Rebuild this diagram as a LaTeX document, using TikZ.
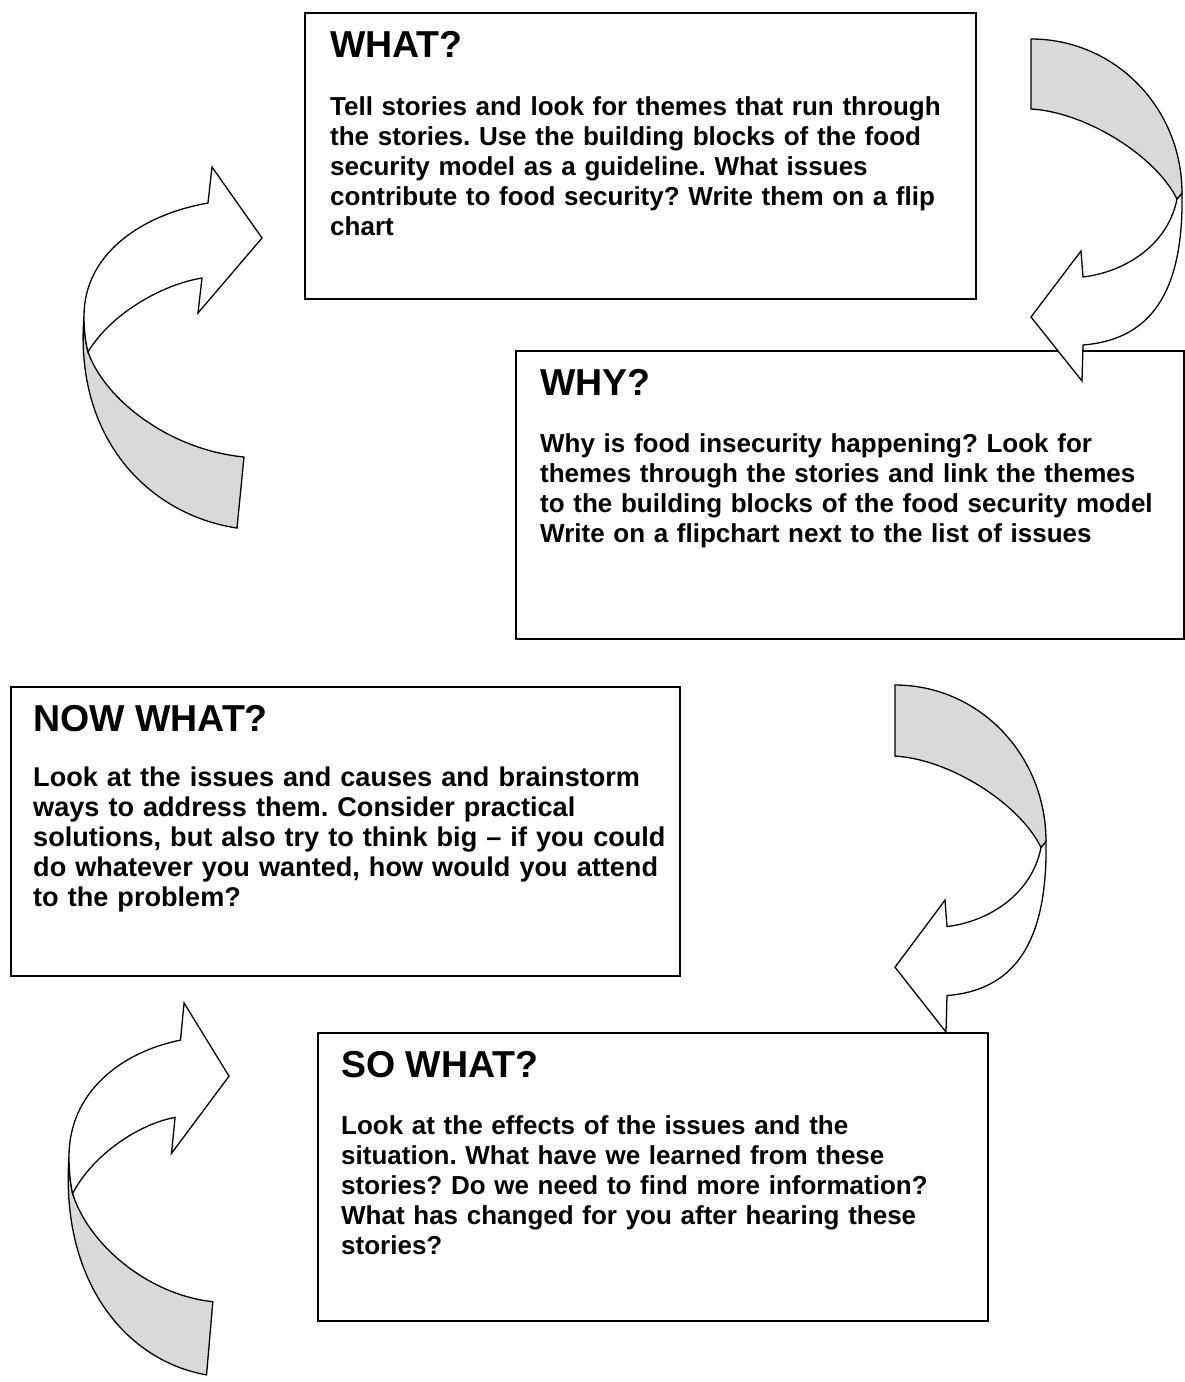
\documentclass[tikz,border=0pt]{standalone}
\usepackage{fontspec}
\setmainfont{Liberation Sans}
\frenchspacing
\definecolor{backgray}{RGB}{217,217,217}
\newcommand\ttlfont{\fontsize{37.5}{40}\selectfont\bfseries}
\newcommand\bdyfont{\fontsize{26}{30}\selectfont\bfseries}
\newcommand\bdyfontL{\fontsize{27.1}{30}\selectfont\bfseries}
\newcommand\ArrowLeftSide{%
  \path[back] (84,316) .. controls (74,440) and (150,515) .. (237,528) -- (244,457)
     .. controls (170,450) and (105,400) .. (88,352)
     .. controls (85,340) and (84,328) .. (84,316) -- cycle;
  \path[face] (208,203) .. controls (140,215) and (84,255) .. (84,316)
     .. controls (84,328) and (85,340) .. (88,352)
     .. controls (110,315) and (160,285) .. (202,278) -- (198,313) -- (262,238)
     -- (212,167) -- cycle;}
\newcommand\ArrowRightSide{%
  \path[back] (1031,39) .. controls (1115,39) and (1182,108) .. (1182,193)
     .. controls (1181,195) and (1179,197) .. (1177,199)
     .. controls (1155,155) and (1085,112) .. (1031,109) -- cycle;
  \path[face] (1182,193) .. controls (1184,300) and (1145,340) .. (1083,345)
     -- (1082,381) -- (1031,317) -- (1081,251) -- (1083,277)
     .. controls (1125,272) and (1168,245) .. (1177,199)
     .. controls (1179,197) and (1181,195) .. (1182,193) -- cycle;}
\begin{document}
\begin{tikzpicture}[x=1pt,y=-1pt,
  box/.style={draw, line width=1.8pt, anchor=north west, inner sep=0pt, fill=white},
  ttl/.style={anchor=base west, inner sep=0pt, font=\ttlfont},
  bdy/.style={anchor=base west, inner sep=0pt, text width=660pt, align=left, font=\bdyfont},
  face/.style={draw, line width=1.3pt, line join=miter, fill=white},
  back/.style={draw, line width=1.3pt, line join=miter, fill=backgray}]
\useasboundingbox (0,0) rectangle (1185,1382);
% boxes
\node[box, minimum width=671pt, minimum height=286pt] (what) at (304,12) {};
\node[box, minimum width=668pt, minimum height=288pt] (why) at (515,350) {};
\node[box, minimum width=669pt, minimum height=289pt] (now) at (10,686) {};
\node[box, minimum width=670pt, minimum height=288pt] (so) at (317,1032) {};
% texts
\node[ttl] (whatT) at (330,57) {WHAT?};
\node[bdy] (whatB) at (330,115) {Tell stories and look for themes that run through\\
the stories. Use the building blocks of the food\\
security model as a guideline. What issues\\
contribute to food security? Write them on a flip\\
chart};
\node[ttl] (whyT) at (540,395) {WHY?};
\node[bdy] (whyB) at (540,452) {Why is food insecurity happening? Look for\\
themes through the stories and link the themes\\
to the building blocks of the food security model\\
Write on a flipchart next to the list of issues};
\node[ttl] (nowT) at (33,731) {NOW WHAT?};
\node[bdy, font=\bdyfontL] (nowB) at (33,786) {Look at the issues and causes and brainstorm\\
ways to address them. Consider practical\\
solutions, but also try to think big -- if you could\\
do whatever you wanted, how would you attend\\
to the problem?};
\node[ttl] (soT) at (341,1077) {SO WHAT?};
\node[bdy] (soB) at (341,1134) {Look at the effects of the issues and the\\
situation. What have we learned from these\\
stories? Do we need to find more information?\\
What has changed for you after hearing these\\
stories?};
% curved arrows
\ArrowLeftSide
\ArrowRightSide
\begin{scope}[shift={(895,685)}, yscale=1.015, shift={(-1031,-39)}]
\ArrowRightSide
\end{scope}
\begin{scope}[shift={(69,1003)}, xscale=0.899, yscale=1.03, shift={(-84,-167)}]
\ArrowLeftSide
\end{scope}
\end{tikzpicture}
\end{document}
